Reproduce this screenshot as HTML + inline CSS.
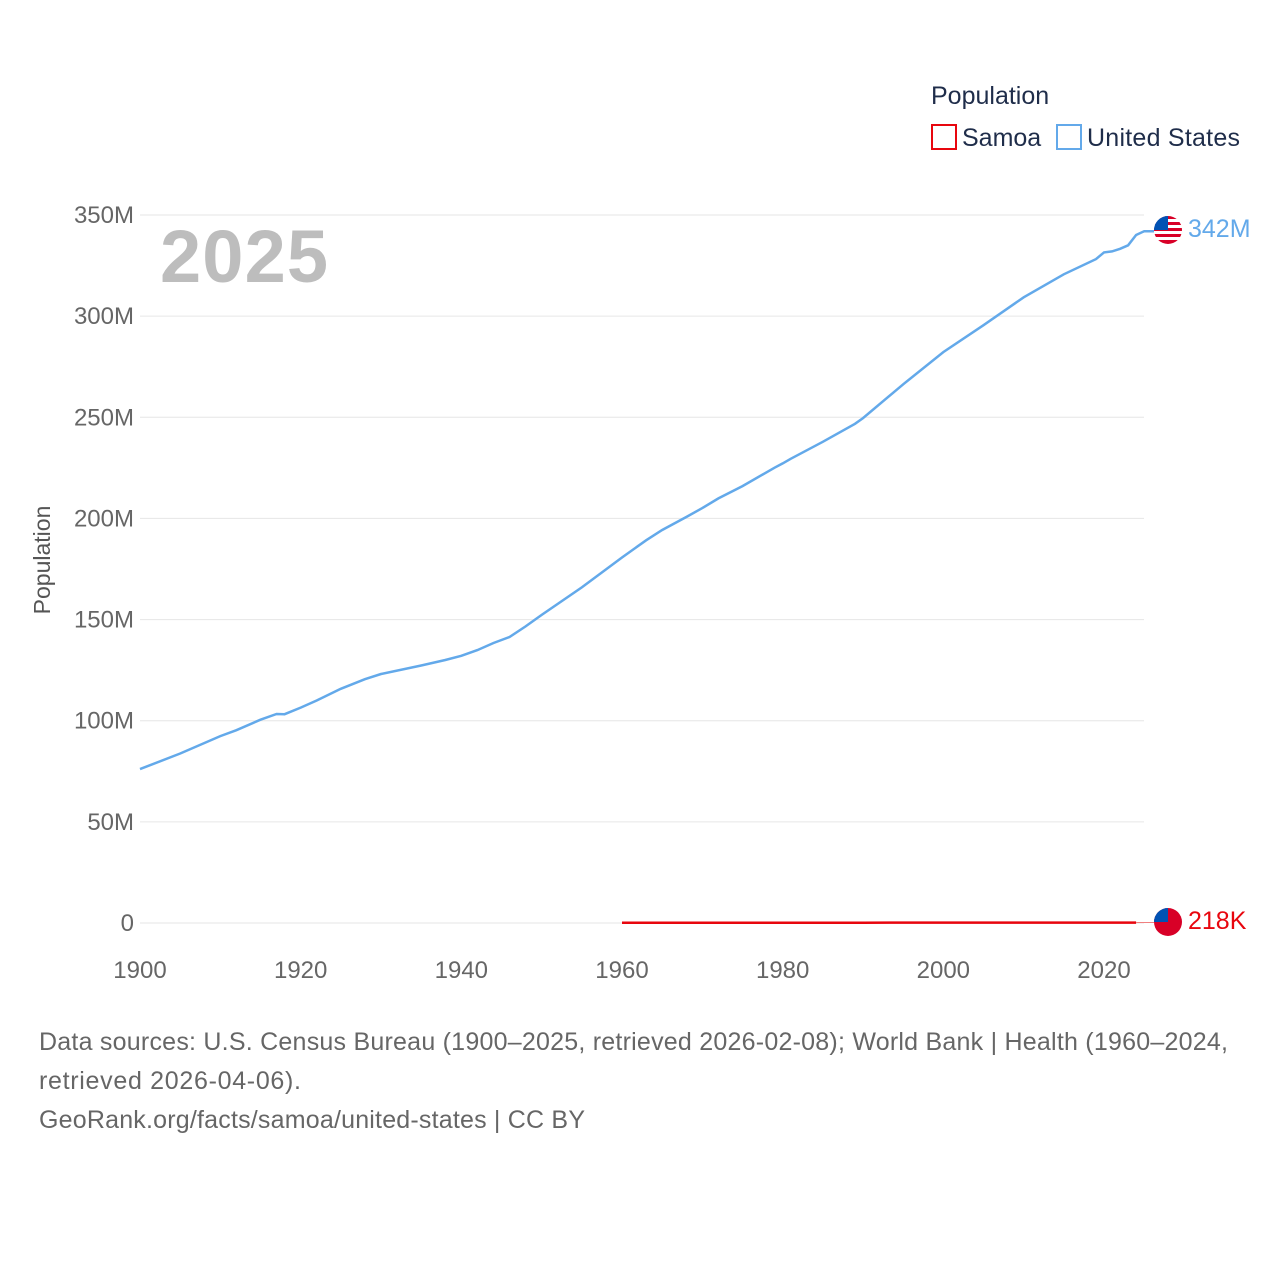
<!DOCTYPE html>
<html><head><meta charset="utf-8"><style>
body{margin:0;background:#fff;font-family:"Liberation Sans",sans-serif}
svg text{font-family:"Liberation Sans",sans-serif}
</style></head><body>
<svg width="1280" height="1280" viewBox="0 0 1280 1280">
<text x="931" y="104" font-size="25" fill="#1f2d4a">Population</text>
<g><rect x="932" y="125" width="24" height="24" fill="none" stroke="#e8060e" stroke-width="2"/><text x="962" y="146" font-size="25" fill="#1f2d4a">Samoa</text></g>
<g><rect x="1057" y="125" width="24" height="24" fill="none" stroke="#63a9ea" stroke-width="2"/><text x="1087" y="146" font-size="25" textLength="153" fill="#1f2d4a">United States</text></g>
<g id="grid"></g>
<g id="yt"></g>
<g id="xt"></g>
<text x="160" y="282" font-size="74" font-weight="bold" textLength="168" fill="#bdbdbd">2025</text>
<text transform="translate(50,560) rotate(-90)" text-anchor="middle" font-size="23" fill="#555">Population</text>
<path id="us" fill="none" stroke="#63a9ea" stroke-width="2.5"/>
<path id="ws" fill="none" stroke="#e8060e" stroke-width="2.5"/>
<g>
<clipPath id="c1"><circle cx="1168" cy="230" r="14"/></clipPath>
<g clip-path="url(#c1)"><rect x="1154" y="216" width="28" height="28" fill="#fff"/>
<rect x="1154" y="216" width="28" height="3" fill="#d80027"/><rect x="1154" y="222" width="28" height="3" fill="#d80027"/><rect x="1154" y="228" width="28" height="3" fill="#d80027"/><rect x="1154" y="234" width="28" height="3" fill="#d80027"/><rect x="1154" y="240" width="28" height="4" fill="#d80027"/>
<rect x="1154" y="216" width="14" height="14" fill="#0052b4"/></g></g>
<text x="1188" y="237" font-size="25" fill="#63a9ea">342M</text>
<g>
<clipPath id="c2"><circle cx="1168" cy="922" r="14"/></clipPath>
<g clip-path="url(#c2)"><rect x="1154" y="908" width="28" height="28" fill="#d80027"/><rect x="1154" y="908" width="14" height="14" fill="#0052b4"/></g></g>
<text x="1188" y="929" font-size="25" fill="#e8060e">218K</text>
<g font-size="25" fill="#666">
<text x="39" y="1050" textLength="1189">Data sources: U.S. Census Bureau (1900–2025, retrieved 2026-02-08); World Bank | Health (1960–2024,</text>
<text x="39" y="1089" textLength="262">retrieved 2026-04-06).</text>
<text x="39" y="1128" textLength="546">GeoRank.org/facts/samoa/united-states | CC BY</text>
</g>
</svg>
<script>
const usYears=[1900,1905,1910,1912,1915,1917,1918,1920,1922,1925,1928,1930,1935,1938,1940,1942,1944,1946,1948,1950,1955,1960,1963,1965,1968,1970,1972,1975,1979,1980,1981,1985,1989,1990,1995,2000,2005,2010,2015,2019,2020,2021,2022,2023,2024,2025];
const usPop=[76.1,83.8,92.4,95.3,100.5,103.3,103.2,106.5,110.0,115.8,120.5,123.1,127.3,130.0,132.1,134.9,138.4,141.4,146.6,152.3,165.9,180.7,189.2,194.3,200.7,205.1,209.9,216.0,225.1,227.2,229.5,237.9,246.8,249.6,266.3,282.2,295.5,309.3,320.7,328.2,331.5,332.0,333.3,335.0,340.1,342.0];
const wsYears=[1960,1970,1980,1990,2000,2010,2020,2024];
const wsPop=[0.109,0.143,0.156,0.163,0.175,0.185,0.211,0.218];
const yTicks=[0,50,100,150,200,250,300,350];
const yTickLabels=["0","50M","100M","150M","200M","250M","300M","350M"];
const xTicks=[1900,1920,1940,1960,1980,2000,2020];
const X=y=>140+(y-1900)*(1104-140)/120;
const Y=v=>923-v*(923-215)/350;
const NS="http://www.w3.org/2000/svg";
const grid=document.getElementById('grid'),yt=document.getElementById('yt'),xt=document.getElementById('xt');
yTicks.forEach((v,i)=>{
 const l=document.createElementNS(NS,'line');
 
 
 l.setAttribute('x1',140);l.setAttribute('x2',1144);l.setAttribute('y1',Y(v));l.setAttribute('y2',Y(v));
 l.setAttribute('stroke','#e6e6e6');l.setAttribute('stroke-width','1');grid.appendChild(l);
 const t=document.createElementNS(NS,'text');
 
 
 t.setAttribute('x',134);t.setAttribute('y',Y(v)+8);t.setAttribute('text-anchor','end');t.setAttribute('font-size','24');t.setAttribute('fill','#666');
 t.textContent=yTickLabels[i];yt.appendChild(t);
});
xTicks.forEach(v=>{
 const t=document.createElementNS(NS,'text');
 
 
 t.setAttribute('x',X(v));t.setAttribute('y',978);t.setAttribute('text-anchor','middle');t.setAttribute('font-size','24');t.setAttribute('fill','#666');
 t.textContent=v;xt.appendChild(t);
});
const path=(xs,vs)=>xs.map((y,i)=>(i?'L':'M')+X(y).toFixed(1)+','+Y(vs[i]).toFixed(1)).join('');
document.getElementById('us').setAttribute('d',path(usYears,usPop)+'L1154,'+Y(usPop[usPop.length-1]).toFixed(1));
document.getElementById('ws').setAttribute('d',path(wsYears,wsPop));
const c=document.createElementNS(NS,'line');


c.setAttribute('x1',X(wsYears[wsYears.length-1]));c.setAttribute('x2',1154);c.setAttribute('y1',Y(wsPop[wsPop.length-1]));c.setAttribute('y2',Y(wsPop[wsPop.length-1]));
c.setAttribute('stroke','#f08080');c.setAttribute('stroke-width','1');
document.querySelector('svg').appendChild(c);
</script>
</body></html>
